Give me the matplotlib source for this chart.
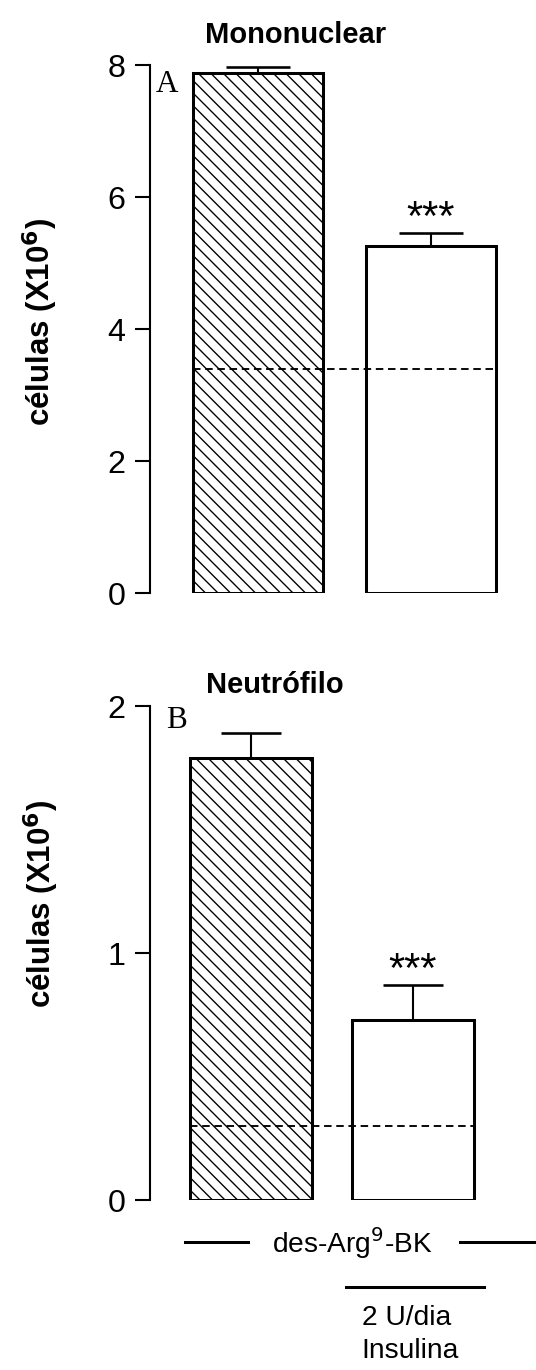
import matplotlib
matplotlib.use("Agg")
import matplotlib.pyplot as plt
from matplotlib.lines import Line2D

# valores (x10^6 celulas)
grupos = ["des-Arg9-BK", "des-Arg9-BK + Insulina"]
mono_media = [7.88, 5.26]
mono_epm = [0.09, 0.20]
mono_basal = 3.39
neut_media = [1.79, 0.73]
neut_epm = [0.10, 0.14]
neut_basal = 0.30
mono_ticks = [0, 2, 4, 6, 8]
neut_ticks = [0, 1, 2]

W, H, DPI = 536, 1370, 75
plt.rcParams['font.family'] = ['Liberation Sans', 'DejaVu Sans']
plt.rcParams['hatch.linewidth'] = 1.3

fig = plt.figure(figsize=(W / DPI, H / DPI), dpi=DPI)


def px(x, y):
    return x / W, 1 - y / H


def painel(rect, media, epm, basal, ticks, letra, letra_xy, largura, capsize):
    ax = fig.add_axes(rect)
    pos = list(range(len(media)))
    ax.bar(pos, media, width=largura, color='white', edgecolor='black',
           linewidth=2.9, hatch=['\\\\', ''], zorder=2)
    ax.errorbar(pos, media, yerr=[[0] * len(epm), epm], fmt='none', ecolor='black',
                elinewidth=2, capsize=capsize, capthick=2.5, zorder=3, clip_on=False)
    ax.hlines(basal, pos[0] - largura / 2, pos[-1] + largura / 2, colors='black',
              linewidth=1.8, linestyles=(0, (4, 2.5)), zorder=4)
    ax.annotate('***', (pos[1], media[1] + epm[1]), xytext=(0, -6), textcoords='offset points',
                ha='center', va='bottom', fontsize=40)
    ax.set_xlim(-0.625, 1.6)
    ax.set_ylim(ticks[0], ticks[-1])
    ax.set_yticks(ticks)
    ax.set_xticks([])
    for s in ['top', 'right', 'bottom']:
        ax.spines[s].set_visible(False)
    ax.spines['left'].set_linewidth(2)
    ax.tick_params(axis='y', direction='out', length=14.4, width=2, pad=9, labelsize=31)
    ax.text(letra_xy[0], letra_xy[1], letra, transform=ax.transAxes, fontsize=30,
            family='Liberation Serif', va='top', ha='left')
    return ax


ax1 = painel([150 / W, 1 - 593.3 / H, 384.5 / W, (593.3 - 65) / H], mono_media, mono_epm,
             mono_basal, mono_ticks, "A", (0.015, 0.99), 0.752, 31)
ax2 = painel([150 / W, 1 - 1200 / H, 359.8 / W, (1200 - 706) / H], neut_media, neut_epm,
             neut_basal, neut_ticks, "B", (0.045, 1.0), 0.757, 29)

fig.text(*px(296, 43), "Mononuclear", ha='center', va='baseline', fontsize=28, fontweight='bold')
fig.text(*px(275, 693), "Neutrófilo", ha='center', va='baseline', fontsize=28, fontweight='bold')

ylab = r"células (X10$^\mathbf{6}$)"
fig.text(*px(40, 322), ylab, rotation=90, ha='center', va='center', fontsize=30, fontweight='bold')
fig.text(*px(41, 904), ylab, rotation=90, ha='center', va='center', fontsize=30, fontweight='bold')

# legenda dos tratamentos
fig.add_artist(Line2D([185 / W, 248 / W], [1 - 1242 / H] * 2, color='black', lw=2.9))
fig.add_artist(Line2D([460 / W, 540 / W], [1 - 1242 / H] * 2, color='black', lw=2.9))
fig.text(*px(352, 1243), r"des-Arg$^9$-BK", ha='center', va='center', fontsize=27)
fig.add_artist(Line2D([346 / W, 484 / W], [1 - 1287 / H] * 2, color='black', lw=2.9))
fig.text(*px(407, 1318), "2 U/dia", ha='center', va='center', fontsize=27)
fig.text(*px(410, 1351), "Insulina", ha='center', va='center', fontsize=27)

fig.savefig("out.png", dpi=DPI)
